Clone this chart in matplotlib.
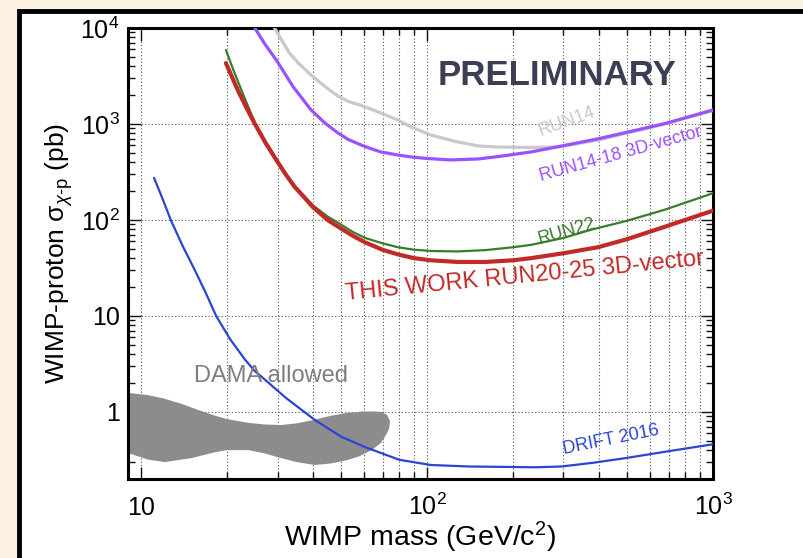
import numpy as np
import matplotlib
matplotlib.use("Agg")
import matplotlib.pyplot as plt
from matplotlib.patches import Rectangle
from matplotlib.ticker import FixedLocator, NullFormatter

plt.rcParams['font.family'] = ['Liberation Sans', 'DejaVu Sans']
plt.rcParams['mathtext.fontset'] = 'custom'
plt.rcParams['mathtext.rm'] = 'Liberation Sans'
plt.rcParams['mathtext.it'] = 'Liberation Sans:italic'
plt.rcParams['mathtext.bf'] = 'Liberation Sans:bold'

# this work RUN20-25 3D-vector
red_m = [19.8, 21.8, 23.3, 25.0, 27.2, 29.7, 32, 34.4, 37, 39.9, 45, 48.9, 55, 60.7, 70, 79, 90, 103, 128,
         160, 200, 231, 300, 396, 500, 679, 1000]
red_s = [4310, 2240, 1500, 1000, 640, 422, 300, 222, 175, 136, 99.5, 85, 68.4, 58.4, 48.8, 43.8, 40, 38, 36.5,
         36.5, 38, 40, 45, 52, 63, 85, 125]

# RUN22
green_m = [19.8, 21, 22.5, 25.0, 27.2, 29.7, 32, 34.4, 37, 39.9, 45, 49, 55, 60.7, 70, 79, 90, 103, 128,
           160, 200, 231, 300, 374, 500, 679, 1000]
green_s = [5900, 3690, 2200, 1030, 660, 432, 308, 228, 180, 142, 108, 93, 75, 65, 57, 52, 49, 47.5, 47,
           48.5, 52, 55, 65, 79, 98, 128, 190]

# RUN14-18 3D-vector
purple_m = [24.5, 27, 29.7, 34, 39.3, 44, 48.8, 53, 58.8, 64, 69, 79, 88, 100, 121, 151, 180, 231, 300, 396,
            500, 679, 1000]
purple_s = [11000, 6900, 4640, 2450, 1400, 1020, 806, 690, 604, 550, 511, 475, 453, 437, 422, 432, 460, 511,
            595, 700, 820, 1010, 1400]

# RUN14
gray_m = [29.0, 31, 33.0, 35.5, 39.3, 44, 48.8, 53, 58.8, 64, 69, 79, 88, 103, 125, 151, 178, 230, 287,
          396, 679, 1000]
gray_s = [10500, 7500, 5500, 4300, 3240, 2450, 1950, 1720, 1560, 1420, 1300, 1100, 930, 768, 660, 590, 575,
          570, 575, 680, 1000, 1380]

# DRIFT 2016
blue_m = [11.1, 11.9, 12.7, 14, 15.4, 16.8, 18.3, 20.5, 23.1, 25, 27.2, 32, 40.5, 50, 60.7, 80, 103, 140, 192,
          240, 295, 380, 494, 700, 1000]
blue_s = [274, 165, 100, 53, 30.2, 17.6, 10, 5.7, 3.5, 2.66, 2.15, 1.41, 0.825, 0.553, 0.43, 0.317, 0.28, 0.27,
          0.267, 0.265, 0.27, 0.295, 0.33, 0.39, 0.46]

# DAMA allowed region outline (upper edge left to right, then lower edge back)
dama_m = [7.5, 9.0, 10.5, 12, 14, 15.8, 18, 20, 23.7, 27, 30.9, 35, 40.5, 46, 52.9, 60, 66, 69, 72.5, 74.2,
          73.8, 72, 69, 64, 58, 52.9, 46, 40.5, 35, 30.9, 27, 23.7, 20, 18.1, 15, 12.1, 10.5, 9.0, 7.5]
dama_s = [1.75, 1.58, 1.5, 1.38, 1.2, 1.05, 0.92, 0.84, 0.77, 0.74, 0.73, 0.76, 0.83, 0.91, 0.98, 1.01, 1.01,
          1.0, 0.93, 0.8, 0.68, 0.58, 0.475, 0.4, 0.345, 0.316, 0.29, 0.28, 0.3, 0.33, 0.37, 0.40, 0.40, 0.38,
          0.33, 0.30, 0.32, 0.374, 0.43]

xticks = [10, 100, 1000]
xlabels = ['10', r'$10^2$', r'$10^3$']
yticks = [1, 10, 100, 1000, 10000]
ylabels = ['1', '10', r'$10^2$', r'$10^3$', r'$10^4$']

fig = plt.figure(figsize=(8.04, 5.58), dpi=100)
fig.patch.set_facecolor('#fbf2e2')
# white panel with a heavy black frame
fig.patches.append(Rectangle((19.5 / 804, -0.1), 1.2, 1.1 - 11 / 558,
                             transform=fig.transFigure, facecolor='white',
                             edgecolor='black', lw=3.5, zorder=-10))

ax = fig.add_axes([128 / 804, 1 - 479 / 558, (713 - 128) / 804, (479 - 28) / 558])
ax.set_xscale('log')
ax.set_yscale('log')
ax.set_xlim(9, 1000)
ax.set_ylim(0.2, 1e4)

kw = dict(solid_capstyle='round', solid_joinstyle='round')
ax.fill(dama_m, dama_s, color='#8c8c8c', lw=0, zorder=2)
ax.plot(gray_m, gray_s, color='#c9c9c9', lw=2.3, zorder=3, **kw)
ax.plot(purple_m, purple_s, color='#9a52ff', lw=2.3, zorder=4, **kw)
ax.plot(green_m, green_s, color='#3b7b2c', lw=1.6, zorder=5, **kw)
ax.plot(red_m, red_s, color='#c22a28', lw=3.0, zorder=6, **kw)
ax.plot(blue_m, blue_s, color='#2b44d6', lw=1.6, zorder=5, **kw)

# grid: vertical at all decade subdivisions, horizontal at decades
ax.xaxis.set_major_locator(FixedLocator(xticks))
ax.xaxis.set_minor_locator(FixedLocator([k * 10 ** d for d in (0, 1, 2) for k in range(2, 10)]))
ax.xaxis.set_minor_formatter(NullFormatter())
ax.set_xticklabels(xlabels)
ax.yaxis.set_major_locator(FixedLocator(yticks))
ax.yaxis.set_minor_locator(FixedLocator([k * 10 ** d for d in (-1, 0, 1, 2, 3) for k in range(2, 10)]))
ax.yaxis.set_minor_formatter(NullFormatter())
ax.set_yticklabels(ylabels)
ax.grid(True, which='major', axis='both', color='#555555', ls=(0, (1, 2)), lw=0.8)
ax.grid(True, which='minor', axis='x', color='#555555', ls=(0, (1, 2)), lw=0.8)
ax.set_axisbelow(True)

ax.tick_params(which='both', direction='in', top=True, right=True, width=1.0, color='#111111')
ax.tick_params(which='major', length=9)
ax.tick_params(which='minor', length=5)
ax.tick_params(axis='y', labelsize=18, pad=6)
ax.tick_params(axis='x', labelsize=18, pad=26)
for t in ax.xaxis.get_major_ticks():
    t.label1.set_va('baseline')
for s in ax.spines.values():
    s.set_linewidth(2.2)

ax.set_xlabel(r'WIMP mass (GeV/c$^2$)', fontsize=20.5, labelpad=0)
ax.set_ylabel(r'WIMP-proton σ$_{χ\mathregular{\text{-}p}}$ (pb)', fontsize=19, labelpad=4)

ax.text(0.733, 0.895, 'PRELIMINARY', transform=ax.transAxes, fontsize=25,
        fontweight='bold', color='#3b3e55', ha='center', va='center')

# curve annotations, placed in figure pixel positions
H = 558
def lab(px, py, s, rot, col, size):
    ax.annotate(s, xy=(px / 804, 1 - py / H), xycoords='figure fraction',
                rotation=rot, rotation_mode='anchor', ha='center', va='center',
                color=col, fontsize=size, zorder=8)

lab(567, 122, 'RUN14', 20, '#c9c9c9', 13)
lab(621, 154, 'RUN14-18 3D-vector', 15.5, '#9a52ff', 13)
lab(567, 232, 'RUN22', 16, '#3b7b2c', 13)
lab(525, 276, 'THIS WORK RUN20-25 3D-vector', 5.6, '#c22a28', 17)
lab(271, 376, 'DAMA allowed', 0, '#7e7e7e', 17)
lab(611, 440, 'DRIFT 2016', 11.5, '#2b44d6', 13)

fig.savefig('out.png', dpi=100, facecolor=fig.get_facecolor())
